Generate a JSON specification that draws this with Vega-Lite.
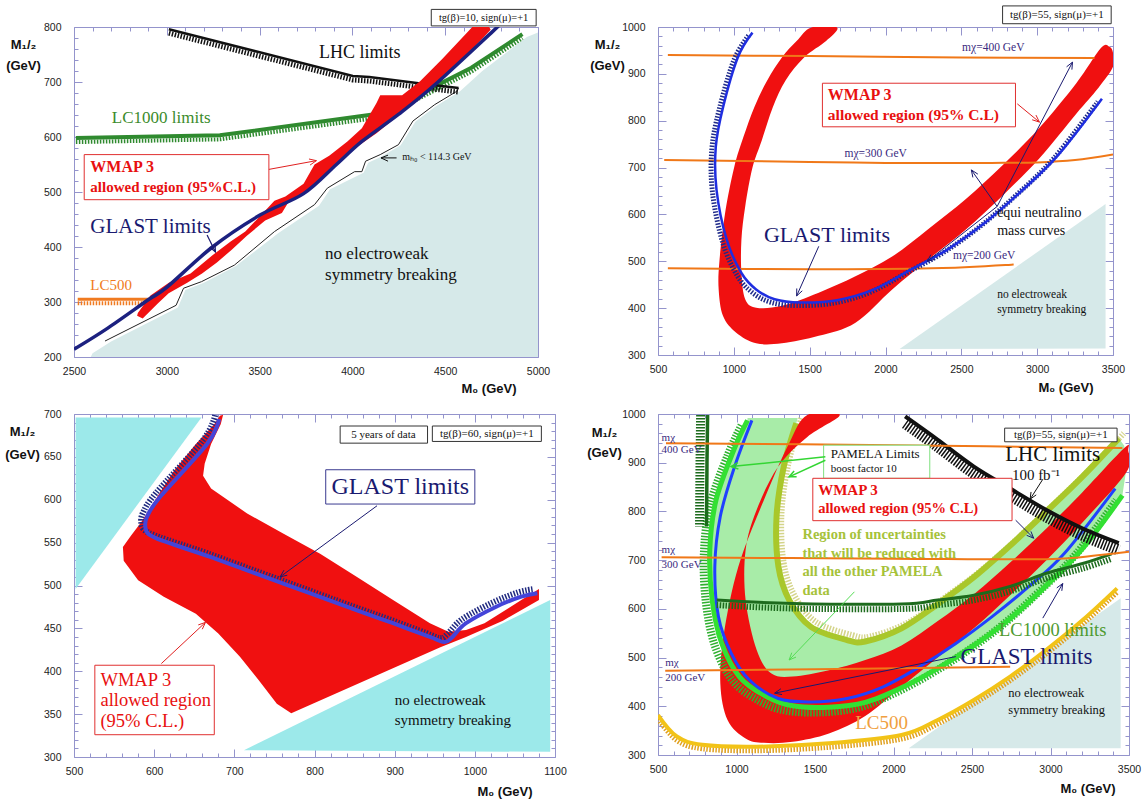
{
"$schema":"https://vega.github.io/schema/vega-lite/v6.json",
"background":"white",
"padding":{"left":4,"top":4,"right":2,"bottom":2},
"config":{
 "view":{"stroke":"#9494cc","strokeWidth":1},
 "axis":{"domain":false,"grid":false,"tickColor":"#9494cc","tickWidth":1,"labelFont":"Liberation Sans","labelFontSize":10.5,"labelColor":"#222","labelFlush":false,"titleFont":"Liberation Sans","titleFontSize":13,"titleFontWeight":"bold","titleColor":"#111"},
 "text":{"font":"Liberation Serif"}
},
"datasets":{
"tl":[
{"s":"hatch","x":2590,"y":200},{"s":"hatch","x":2600,"y":207},{"s":"hatch","x":2700,"y":228},{"s":"hatch","x":3060,"y":290},{"s":"hatch","x":3100,"y":322},{"s":"hatch","x":3200,"y":335},{"s":"hatch","x":3370,"y":365},{"s":"hatch","x":3600,"y":425},{"s":"hatch","x":3820,"y":475},{"s":"hatch","x":3880,"y":505},{"s":"hatch","x":4060,"y":535},{"s":"hatch","x":4085,"y":553},{"s":"hatch","x":4160,"y":565},{"s":"hatch","x":4260,"y":585},{"s":"hatch","x":4340,"y":628},{"s":"hatch","x":4450,"y":656},{"s":"hatch","x":4580,"y":683},{"s":"hatch","x":4700,"y":720},{"s":"hatch","x":4940,"y":782},{"s":"hatch","x":5000,"y":790},{"s":"hatch","x":5000,"y":200},
{"s":"mh","x":2667,"y":229},{"s":"mh","x":3050,"y":294},{"s":"mh","x":3090,"y":325},{"s":"mh","x":3187,"y":337},{"s":"mh","x":3364,"y":367},{"s":"mh","x":3580,"y":428},{"s":"mh","x":3796,"y":477},{"s":"mh","x":3865,"y":507},{"s":"mh","x":4012,"y":537},{"s":"mh","x":4051,"y":537},{"s":"mh","x":4071,"y":556},{"s":"mh","x":4150,"y":568},{"s":"mh","x":4248,"y":586},{"s":"mh","x":4326,"y":629},{"s":"mh","x":4444,"y":659},{"s":"mh","x":4562,"y":683},{"s":"mh","x":4572,"y":689},
{"s":"glast","x":2500,"y":214},{"s":"glast","x":2680,"y":252},{"s":"glast","x":2900,"y":304},{"s":"glast","x":3001,"y":327},{"s":"glast","x":3246,"y":400},{"s":"glast","x":3502,"y":458},{"s":"glast","x":3737,"y":497},{"s":"glast","x":3914,"y":550},{"s":"glast","x":4051,"y":592},{"s":"glast","x":4248,"y":641},{"s":"glast","x":4444,"y":695},{"s":"glast","x":4759,"y":793},{"s":"glast","x":4800,"y":806},
{"s":"wmap","x":2844,"y":280},{"s":"wmap","x":2912,"y":312},{"s":"wmap","x":3011,"y":335},{"s":"wmap","x":3128,"y":352},{"s":"wmap","x":3246,"y":385},{"s":"wmap","x":3344,"y":410},{"s":"wmap","x":3423,"y":428},{"s":"wmap","x":3541,"y":470},{"s":"wmap","x":3580,"y":484},{"s":"wmap","x":3639,"y":492},{"s":"wmap","x":3737,"y":515},{"s":"wmap","x":3796,"y":550},{"s":"wmap","x":3875,"y":566},{"s":"wmap","x":3973,"y":592},{"s":"wmap","x":4051,"y":616},{"s":"wmap","x":4130,"y":662},{"s":"wmap","x":4150,"y":676},{"s":"wmap","x":4268,"y":676},{"s":"wmap","x":4366,"y":702},{"s":"wmap","x":4484,"y":742},{"s":"wmap","x":4660,"y":805},{"s":"wmap","x":4729,"y":805},
{"s":"wmap","x":4745,"y":795},{"s":"wmap","x":4560,"y":728},{"s":"wmap","x":4360,"y":668},{"s":"wmap","x":4220,"y":632},{"s":"wmap","x":4130,"y":607},{"s":"wmap","x":3980,"y":572},{"s":"wmap","x":3860,"y":533},{"s":"wmap","x":3740,"y":497},{"s":"wmap","x":3660,"y":484},{"s":"wmap","x":3620,"y":462},{"s":"wmap","x":3530,"y":448},{"s":"wmap","x":3430,"y":420},{"s":"wmap","x":3350,"y":395},{"s":"wmap","x":3270,"y":372},{"s":"wmap","x":3190,"y":352},{"s":"wmap","x":3110,"y":335},{"s":"wmap","x":3010,"y":316},{"s":"wmap","x":2950,"y":297},{"s":"wmap","x":2870,"y":270},{"s":"wmap","x":2840,"y":275},
{"s":"lhc","x":3011,"y":796},{"s":"lhc","x":3500,"y":754},{"s":"lhc","x":4002,"y":711},{"s":"lhc","x":4091,"y":709},{"s":"lhc","x":4346,"y":698},{"s":"lhc","x":4444,"y":694},{"s":"lhc","x":4572,"y":689},
{"s":"lc1000","x":2510,"y":598},{"s":"lc1000","x":3286,"y":603},{"s":"lc1000","x":4110,"y":641},{"s":"lc1000","x":4287,"y":665},{"s":"lc1000","x":4444,"y":692},{"s":"lc1000","x":4641,"y":726},{"s":"lc1000","x":4916,"y":787},
{"s":"lc500","x":2520,"y":305},{"s":"lc500","x":2903,"y":305}
],
"tl_arr":[
{"c":"red","k":"a","x":3532,"y":540},{"c":"red","k":"a","x":3806,"y":557},{"c":"red","k":"ah","x":3766,"y":560},{"c":"red","k":"ah","x":3806,"y":557},{"c":"red","k":"ah","x":3772,"y":549},
{"c":"navy","k":"b","x":3217,"y":422},{"c":"navy","k":"b","x":3262,"y":391},{"c":"navy","k":"bh","x":3260,"y":405},{"c":"navy","k":"bh","x":3262,"y":391},{"c":"navy","k":"bh","x":3231,"y":400},
{"c":"black","k":"c","x":4238,"y":562},{"c":"black","k":"c","x":4154,"y":562},{"c":"black","k":"ch","x":4192,"y":567},{"c":"black","k":"ch","x":4154,"y":562},{"c":"black","k":"ch","x":4192,"y":556}
],
"tl_txt":[
{"g":"lhc","x":4040,"y":753,"t":"LHC limits"},
{"g":"lc1000","x":2970,"y":635,"t":"LC1000 limits"},
{"g":"lc500","x":2700,"y":331,"t":"LC500"},
{"g":"glast","x":2912,"y":437,"t":"GLAST limits"},
{"g":"ew","x":3853,"y":388,"t":"no electroweak"},{"g":"ew","x":3853,"y":349,"t":"symmetry breaking"},
{"g":"small","x":4268,"y":563,"t":"mₕ₀ < 114.3 GeV"},
{"g":"wm1","x":2588,"y":545,"t":"WMAP 3"},
{"g":"wm2","x":2588,"y":510,"t":"allowed region (95%C.L.)"},
{"g":"tg","x":4707,"y":817,"t":"tg(β)=10, sign(μ)=+1"}
],
"tl_box":[
{"g":"red","x":2555,"x2":3550,"y":486,"y2":568},
{"g":"black","x":4425,"x2":4990,"y":802,"y2":832}
],
"tr":[
{"s":"hatch","x":2093,"y":313},{"s":"hatch","x":3451,"y":314},{"s":"hatch","x":3451,"y":622},
{"s":"m400","x":565,"y":940},{"s":"m400","x":1500,"y":938},{"s":"m400","x":2500,"y":935},{"s":"m400","x":3378,"y":934},
{"s":"m300","x":541,"y":716},{"s":"m300","x":1500,"y":712},{"s":"m300","x":2000,"y":710},{"s":"m300","x":2700,"y":710},{"s":"m300","x":3000,"y":711},{"s":"m300","x":3250,"y":716},{"s":"m300","x":3500,"y":728},
{"s":"m200","x":565,"y":485},{"s":"m200","x":1500,"y":483},{"s":"m200","x":2300,"y":485},{"s":"m200","x":2845,"y":493},
{"s":"wmap","x":1511,"y":999},{"s":"wmap","x":1414,"y":970},{"s":"wmap","x":1317,"y":935},{"s":"wmap","x":1220,"y":886},{"s":"wmap","x":1135,"y":829},{"s":"wmap","x":1063,"y":765},{"s":"wmap","x":1002,"y":700},{"s":"wmap","x":941,"y":600},{"s":"wmap","x":905,"y":500},{"s":"wmap","x":900,"y":440},{"s":"wmap","x":929,"y":383},{"s":"wmap","x":1014,"y":348},{"s":"wmap","x":1147,"y":325},{"s":"wmap","x":1317,"y":325},{"s":"wmap","x":1560,"y":341},{"s":"wmap","x":1802,"y":369},{"s":"wmap","x":2044,"y":440},{"s":"wmap","x":2287,"y":505},{"s":"wmap","x":2530,"y":568},{"s":"wmap","x":2772,"y":640},{"s":"wmap","x":3015,"y":720},{"s":"wmap","x":3258,"y":815},{"s":"wmap","x":3403,"y":870},{"s":"wmap","x":3500,"y":915},{"s":"wmap","x":3500,"y":945},{"s":"wmap","x":3476,"y":958},
{"s":"wmap","x":3420,"y":955},{"s":"wmap","x":3258,"y":880},{"s":"wmap","x":3015,"y":785},{"s":"wmap","x":2772,"y":705},{"s":"wmap","x":2530,"y":633},{"s":"wmap","x":2287,"y":570},{"s":"wmap","x":2044,"y":510},{"s":"wmap","x":1802,"y":468},{"s":"wmap","x":1560,"y":433},{"s":"wmap","x":1317,"y":405},{"s":"wmap","x":1147,"y":401},{"s":"wmap","x":1075,"y":419},{"s":"wmap","x":1050,"y":475},{"s":"wmap","x":1050,"y":546},{"s":"wmap","x":1075,"y":617},{"s":"wmap","x":1123,"y":700},{"s":"wmap","x":1184,"y":758},{"s":"wmap","x":1257,"y":829},{"s":"wmap","x":1341,"y":886},{"s":"wmap","x":1463,"y":935},{"s":"wmap","x":1608,"y":970},{"s":"wmap","x":1681,"y":999},
{"s":"glast","x":1123,"y":988},{"s":"glast","x":1026,"y":935},{"s":"glast","x":929,"y":829},{"s":"glast","x":881,"y":744},{"s":"glast","x":886,"y":652},{"s":"glast","x":953,"y":546},{"s":"glast","x":1050,"y":475},{"s":"glast","x":1147,"y":440},{"s":"glast","x":1269,"y":419},{"s":"glast","x":1439,"y":412},{"s":"glast","x":1681,"y":417},{"s":"glast","x":1924,"y":440},{"s":"glast","x":2166,"y":482},{"s":"glast","x":2408,"y":525},{"s":"glast","x":2651,"y":581},{"s":"glast","x":2893,"y":649},{"s":"glast","x":3136,"y":726},{"s":"glast","x":3427,"y":847}
],
"tr_arr":[
{"c":"navy","k":"b1","x":1560,"y":532},{"c":"navy","k":"b1","x":1414,"y":426},{"c":"navy","k":"b1h","x":1451,"y":437},{"c":"navy","k":"b1h","x":1414,"y":426},{"c":"navy","k":"b1h","x":1415,"y":442},
{"c":"navy","k":"b3","x":2736,"y":617},{"c":"navy","k":"b3","x":3233,"y":925},{"c":"navy","k":"b3h","x":3194,"y":915},{"c":"navy","k":"b3h","x":3233,"y":925},{"c":"navy","k":"b3h","x":3229,"y":909},
{"c":"navy","k":"b4","x":2736,"y":617},{"c":"navy","k":"b4","x":2566,"y":695},{"c":"navy","k":"b4h","x":2576,"y":679},{"c":"navy","k":"b4h","x":2566,"y":695},{"c":"navy","k":"b4h","x":2609,"y":686},
{"c":"navy","k":"b5","x":2736,"y":617},{"c":"navy","k":"b5","x":2275,"y":500},{"c":"navy","k":"b5h","x":2324,"y":504},{"c":"navy","k":"b5h","x":2275,"y":500},{"c":"navy","k":"b5h","x":2299,"y":514},
{"c":"red","k":"b2","x":2869,"y":836},{"c":"red","k":"b2","x":3015,"y":797},{"c":"red","k":"b2h","x":2992,"y":812},{"c":"red","k":"b2h","x":3015,"y":797},{"c":"red","k":"b2h","x":2967,"y":802}
],
"tr_txt":[
{"g":"glast","x":1614,"y":557,"t":"GLAST limits"},
{"g":"wm1","x":1620,"y":854,"t":"WMAP 3"},
{"g":"wm2","x":1620,"y":813,"t":"allowed region (95% C.L)"},
{"g":"equi","x":2736,"y":603,"t":"equi neutralino"},{"g":"equi","x":2736,"y":564,"t":"mass curves"},
{"g":"ew","x":2736,"y":429,"t":"no electroweak"},{"g":"ew","x":2736,"y":396,"t":"symmetry breaking"},
{"g":"mchi","x":2505,"y":956,"t":"mχ=400 GeV"},{"g":"mchi","x":1730,"y":728,"t":"mχ=300 GeV"},{"g":"mchi","x":2445,"y":511,"t":"mχ=200 GeV"},
{"g":"tg","x":3130,"y":1025,"t":"tg(β)=55, sign(μ)=+1"}
],
"tr_box":[
{"g":"red","x":1584,"x2":2857,"y":787,"y2":880},
{"g":"black","x":2772,"x2":3488,"y":1007,"y2":1045}
],
"bl":[
{"s":"hatch1","x":502,"y":696},{"s":"hatch1","x":659,"y":696},{"s":"hatch1","x":502,"y":496},
{"s":"hatch2","x":712,"y":308},{"s":"hatch2","x":1094,"y":483},{"s":"hatch2","x":1094,"y":306},
{"s":"wmap","x":686,"y":699},{"s":"wmap","x":683,"y":688},{"s":"wmap","x":671,"y":665},{"s":"wmap","x":663,"y":642},{"s":"wmap","x":661,"y":628},{"s":"wmap","x":671,"y":613},{"s":"wmap","x":716,"y":584},{"s":"wmap","x":762,"y":560},{"s":"wmap","x":807,"y":537},{"s":"wmap","x":853,"y":510},{"s":"wmap","x":898,"y":483},{"s":"wmap","x":944,"y":456},{"s":"wmap","x":967,"y":446},{"s":"wmap","x":989,"y":448},{"s":"wmap","x":1012,"y":456},{"s":"wmap","x":1058,"y":483},{"s":"wmap","x":1080,"y":496},{"s":"wmap","x":1080,"y":483},{"s":"wmap","x":1035,"y":459},{"s":"wmap","x":989,"y":440},{"s":"wmap","x":957,"y":428},{"s":"wmap","x":771,"y":351},{"s":"wmap","x":753,"y":362},{"s":"wmap","x":730,"y":390},{"s":"wmap","x":707,"y":417},{"s":"wmap","x":680,"y":444},{"s":"wmap","x":652,"y":467},{"s":"wmap","x":612,"y":487},{"s":"wmap","x":580,"y":506},{"s":"wmap","x":562,"y":529},{"s":"wmap","x":561,"y":545},{"s":"wmap","x":571,"y":558},{"s":"wmap","x":584,"y":574},{"s":"wmap","x":598,"y":595},{"s":"wmap","x":625,"y":634},{"s":"wmap","x":652,"y":665},{"s":"wmap","x":675,"y":688},{"s":"wmap","x":682,"y":698},
{"s":"glast","x":681,"y":694},{"s":"glast","x":666,"y":665},{"s":"glast","x":607,"y":603},{"s":"glast","x":591,"y":580},{"s":"glast","x":589,"y":568},{"s":"glast","x":593,"y":560},{"s":"glast","x":611,"y":552},{"s":"glast","x":671,"y":533},{"s":"glast","x":762,"y":502},{"s":"glast","x":853,"y":471},{"s":"glast","x":898,"y":456},{"s":"glast","x":944,"y":440},{"s":"glast","x":962,"y":434},{"s":"glast","x":971,"y":439},{"s":"glast","x":989,"y":456},{"s":"glast","x":1026,"y":475},{"s":"glast","x":1058,"y":487},{"s":"glast","x":1078,"y":491}
],
"bl_arr":[
{"c":"navy","k":"c1","x":878,"y":593},{"c":"navy","k":"c1","x":757,"y":510},{"c":"navy","k":"c1h","x":766,"y":512},{"c":"navy","k":"c1h","x":757,"y":510},{"c":"navy","k":"c1h","x":762,"y":518},
{"c":"red","k":"c2","x":609,"y":409},{"c":"red","k":"c2","x":664,"y":457},{"c":"red","k":"c2h","x":655,"y":454},{"c":"red","k":"c2h","x":664,"y":457},{"c":"red","k":"c2h","x":660,"y":449}
],
"bl_txt":[
{"g":"glast","x":907,"y":615,"t":"GLAST limits"},
{"g":"wm","x":533,"y":390,"t":"WMAP 3"},{"g":"wm","x":533,"y":366,"t":"allowed region"},{"g":"wm","x":533,"y":342,"t":"(95% C.L.)"},
{"g":"ew","x":900,"y":366,"t":"no electroweak"},{"g":"ew","x":900,"y":343,"t":"symmetry breaking"},
{"g":"tg","x":886,"y":676,"t":"5 years of data"},{"g":"tg","x":1015,"y":677,"t":"tg(β)=60, sign(μ)=+1"}
],
"bl_box":[
{"g":"navy","x":814,"x2":1000,"y":595,"y2":635},
{"g":"red","x":526,"x2":675,"y":326,"y2":407},
{"g":"black","x":832,"x2":941,"y":666,"y2":686},
{"g":"black","x":947,"x2":1083,"y":668,"y2":686}
],
"br":[
{"s":"hatch","x":2097,"y":314},{"s":"hatch","x":3447,"y":314},{"s":"hatch","x":3447,"y":622},
{"s":"lc500","x":500,"y":382},{"s":"lc500","x":620,"y":338},{"s":"lc500","x":782,"y":321},{"s":"lc500","x":1128,"y":317},{"s":"lc500","x":1589,"y":324},{"s":"lc500","x":2051,"y":341},{"s":"lc500","x":2282,"y":372},{"s":"lc500","x":2512,"y":413},{"s":"lc500","x":2743,"y":461},{"s":"lc500","x":2974,"y":516},{"s":"lc500","x":3205,"y":577},{"s":"lc500","x":3424,"y":642},
{"s":"lg","x":1070,"y":992},{"s":"lg","x":1070,"y":987},{"s":"lg","x":985,"y":928},{"s":"lg","x":870,"y":824},{"s":"lg","x":830,"y":721},{"s":"lg","x":845,"y":618},{"s":"lg","x":905,"y":530},{"s":"lg","x":1020,"y":460},{"s":"lg","x":1190,"y":420},{"s":"lg","x":1358,"y":401},{"s":"lg","x":1589,"y":398},{"s":"lg","x":1820,"y":408},{"s":"lg","x":2051,"y":438},{"s":"lg","x":2282,"y":478},{"s":"lg","x":2513,"y":525},{"s":"lg","x":2743,"y":580},{"s":"lg","x":2974,"y":648},{"s":"lg","x":3205,"y":724},{"s":"lg","x":3458,"y":833},{"s":"lg","x":3480,"y":880},{"s":"lg","x":3470,"y":935},{"s":"lg","x":3435,"y":950},{"s":"lg","x":3205,"y":872},{"s":"lg","x":2974,"y":800},{"s":"lg","x":2743,"y":730},{"s":"lg","x":2512,"y":665},{"s":"lg","x":2282,"y":610},{"s":"lg","x":2051,"y":560},{"s":"lg","x":1820,"y":533},{"s":"lg","x":1704,"y":536},{"s":"lg","x":1474,"y":563},{"s":"lg","x":1336,"y":618},{"s":"lg","x":1267,"y":687},{"s":"lg","x":1255,"y":789},{"s":"lg","x":1301,"y":892},{"s":"lg","x":1381,"y":981},{"s":"lg","x":1390,"y":992},
{"s":"olive","x":1381,"y":981},{"s":"olive","x":1301,"y":892},{"s":"olive","x":1255,"y":789},{"s":"olive","x":1267,"y":687},{"s":"olive","x":1336,"y":618},{"s":"olive","x":1474,"y":563},{"s":"olive","x":1704,"y":536},{"s":"olive","x":1820,"y":533},{"s":"olive","x":2051,"y":560},{"s":"olive","x":2282,"y":610},{"s":"olive","x":2512,"y":665},{"s":"olive","x":2743,"y":730},{"s":"olive","x":2974,"y":800},{"s":"olive","x":3205,"y":872},{"s":"olive","x":3435,"y":950},
{"s":"wmap","x":1451,"y":998},{"s":"wmap","x":1335,"y":940},{"s":"wmap","x":1174,"y":823},{"s":"wmap","x":1012,"y":687},{"s":"wmap","x":920,"y":550},{"s":"wmap","x":897,"y":447},{"s":"wmap","x":943,"y":372},{"s":"wmap","x":1058,"y":334},{"s":"wmap","x":1174,"y":325},{"s":"wmap","x":1358,"y":327},{"s":"wmap","x":1589,"y":344},{"s":"wmap","x":1820,"y":380},{"s":"wmap","x":2051,"y":440},{"s":"wmap","x":2282,"y":500},{"s":"wmap","x":2512,"y":560},{"s":"wmap","x":2743,"y":628},{"s":"wmap","x":2974,"y":700},{"s":"wmap","x":3205,"y":778},{"s":"wmap","x":3482,"y":880},{"s":"wmap","x":3495,"y":925},
{"s":"wmap","x":3470,"y":930},{"s":"wmap","x":3205,"y":840},{"s":"wmap","x":2974,"y":765},{"s":"wmap","x":2743,"y":695},{"s":"wmap","x":2512,"y":630},{"s":"wmap","x":2282,"y":575},{"s":"wmap","x":2051,"y":525},{"s":"wmap","x":1820,"y":495},{"s":"wmap","x":1589,"y":474},{"s":"wmap","x":1358,"y":461},{"s":"wmap","x":1220,"y":468},{"s":"wmap","x":1128,"y":516},{"s":"wmap","x":1058,"y":618},{"s":"wmap","x":1058,"y":721},{"s":"wmap","x":1128,"y":803},{"s":"wmap","x":1266,"y":892},{"s":"wmap","x":1451,"y":953},{"s":"wmap","x":1658,"y":998},
{"s":"bg","x":1070,"y":987},{"s":"bg","x":985,"y":928},{"s":"bg","x":870,"y":824},{"s":"bg","x":830,"y":721},{"s":"bg","x":845,"y":618},{"s":"bg","x":905,"y":530},{"s":"bg","x":1020,"y":460},{"s":"bg","x":1190,"y":420},{"s":"bg","x":1358,"y":401},{"s":"bg","x":1589,"y":398},{"s":"bg","x":1820,"y":408},{"s":"bg","x":2051,"y":438},{"s":"bg","x":2282,"y":478},{"s":"bg","x":2513,"y":525},{"s":"bg","x":2743,"y":580},{"s":"bg","x":2974,"y":648},{"s":"bg","x":3205,"y":724},{"s":"bg","x":3458,"y":833},
{"s":"glast","x":1098,"y":987},{"s":"glast","x":989,"y":893},{"s":"glast","x":897,"y":790},{"s":"glast","x":862,"y":687},{"s":"glast","x":885,"y":584},{"s":"glast","x":966,"y":509},{"s":"glast","x":1082,"y":454},{"s":"glast","x":1266,"y":416},{"s":"glast","x":1474,"y":409},{"s":"glast","x":1705,"y":416},{"s":"glast","x":1935,"y":440},{"s":"glast","x":2166,"y":481},{"s":"glast","x":2397,"y":529},{"s":"glast","x":2628,"y":584},{"s":"glast","x":2859,"y":645},{"s":"glast","x":3089,"y":714},{"s":"glast","x":3412,"y":847},
{"s":"dg1","x":816,"y":998},{"s":"dg1","x":812,"y":900},{"s":"dg1","x":809,"y":769},
{"s":"dg2","x":874,"y":618},{"s":"dg2","x":1358,"y":611},{"s":"dg2","x":2051,"y":610},{"s":"dg2","x":2282,"y":618},{"s":"dg2","x":2512,"y":628},{"s":"dg2","x":2743,"y":646},{"s":"dg2","x":2974,"y":673},{"s":"dg2","x":3205,"y":693},{"s":"dg2","x":3389,"y":713},
{"s":"lhc","x":2074,"y":995},{"s":"lhc","x":2282,"y":947},{"s":"lhc","x":2512,"y":892},{"s":"lhc","x":2743,"y":847},{"s":"lhc","x":2974,"y":803},{"s":"lhc","x":3205,"y":765},{"s":"lhc","x":3435,"y":735},
{"s":"m400","x":551,"y":940},{"s":"m400","x":2000,"y":936},{"s":"m400","x":3458,"y":930},
{"s":"m300","x":523,"y":706},{"s":"m300","x":2000,"y":703},{"s":"m300","x":2974,"y":702},{"s":"m300","x":3300,"y":710},{"s":"m300","x":3500,"y":717},
{"s":"m200","x":546,"y":473},{"s":"m200","x":1500,"y":476},{"s":"m200","x":2743,"y":481}
],
"br_arr":[
{"c":"green","k":"d1","x":1566,"y":912},{"c":"green","k":"d1","x":966,"y":892},{"c":"green","k":"d1h","x":1012,"y":887},{"c":"green","k":"d1h","x":966,"y":892},{"c":"green","k":"d1h","x":1008,"y":900},
{"c":"green","k":"d2","x":1566,"y":905},{"c":"green","k":"d2","x":1335,"y":871},{"c":"green","k":"d2h","x":1383,"y":871},{"c":"green","k":"d2h","x":1335,"y":871},{"c":"green","k":"d2h","x":1367,"y":883},
{"c":"black","k":"d3","x":2951,"y":866},{"c":"black","k":"d3","x":2870,"y":825},{"c":"black","k":"d3h","x":2909,"y":834},{"c":"black","k":"d3h","x":2870,"y":825},{"c":"black","k":"d3h","x":2876,"y":840},
{"c":"navy","k":"d4","x":2778,"y":782},{"c":"navy","k":"d4","x":2893,"y":745},{"c":"navy","k":"d4h","x":2875,"y":759},{"c":"navy","k":"d4h","x":2893,"y":745},{"c":"navy","k":"d4h","x":2848,"y":751},
{"c":"navy","k":"d6","x":2397,"y":502},{"c":"navy","k":"d6","x":1243,"y":427},{"c":"navy","k":"d6h","x":1290,"y":424},{"c":"navy","k":"d6h","x":1243,"y":427},{"c":"navy","k":"d6h","x":1283,"y":436},
{"c":"navy","k":"d7","x":2951,"y":581},{"c":"navy","k":"d7","x":3078,"y":652},{"c":"navy","k":"d7h","x":3040,"y":643},{"c":"navy","k":"d7h","x":3078,"y":652},{"c":"navy","k":"d7h","x":3072,"y":637},
{"c":"lgreen","k":"d5","x":1751,"y":635},{"c":"lgreen","k":"d5","x":1335,"y":495},{"c":"lgreen","k":"d5h","x":1379,"y":501},{"c":"lgreen","k":"d5h","x":1335,"y":495},{"c":"lgreen","k":"d5h","x":1352,"y":510}
],
"br_txt":[
{"g":"lhc","x":3014,"y":915,"t":"LHC limits"},
{"g":"fb","x":2754,"y":874,"t":"100 fb⁻¹"},
{"g":"glast","x":2847,"y":502,"t":"GLAST limits"},
{"g":"lc1000","x":3014,"y":557,"t":"LC1000 limits"},
{"g":"lc500","x":1924,"y":365,"t":"LC500"},
{"g":"pam1","x":1601,"y":918,"t":"PAMELA Limits"},
{"g":"pam2","x":1601,"y":888,"t":"boost factor 10"},
{"g":"wm1","x":1520,"y":844,"t":"WMAP 3"},
{"g":"wm2","x":1520,"y":806,"t":"allowed region (95% C.L)"},
{"g":"reg","x":1420,"y":752,"t":"Region of uncertainties"},{"g":"reg","x":1420,"y":713,"t":"that will be reduced with"},{"g":"reg","x":1420,"y":675,"t":"all the other PAMELA"},{"g":"reg","x":1420,"y":637,"t":"data"},
{"g":"ew","x":2731,"y":427,"t":"no electroweak"},{"g":"ew","x":2731,"y":392,"t":"symmetry breaking"},
{"g":"mchi","x":523,"y":950,"t":"mχ"},{"g":"mchi","x":523,"y":926,"t":"400 GeV"},{"g":"mchi","x":523,"y":721,"t":"mχ"},{"g":"mchi","x":523,"y":690,"t":"300 GeV"},{"g":"mchi","x":546,"y":488,"t":"mχ"},{"g":"mchi","x":546,"y":459,"t":"200 GeV"},
{"g":"tg","x":3066,"y":957,"t":"tg(β)=55, sign(μ)=+1"}
],
"br_box":[
{"g":"green","x":1555,"x2":2231,"y":868,"y2":936},
{"g":"red","x":1486,"x2":2755,"y":781,"y2":868},
{"g":"black","x":2708,"x2":3424,"y":943,"y2":971}
]
},
"concat":[
{
"width":464,"height":330,
"layer":[
 {"encoding":{
   "x":{"field":"x","type":"quantitative","scale":{"domain":[2500,5000],"nice":false,"zero":false},"axis":{"orient":"bottom","values":[2500,3000,3500,4000,4500,5000],"format":"d","tickSize":-8,"labelPadding":17,"title":"M₀ (GeV)","titleX":442,"titleY":31,"titleAlign":"right","titleBaseline":"middle"}},
   "y":{"field":"y","type":"quantitative","scale":{"domain":[200,800],"nice":false,"zero":false},"axis":{"orient":"left","values":[200,300,400,500,600,700,800],"format":"d","tickSize":-8,"labelPadding":21,"title":["M₁/₂","(GeV)"],"titleAngle":0,"titleAlign":"center","titleBaseline":"top","titleX":-51,"titleY":11,"titleLineHeight":21}}
  },
  "layer":[
   {"data":{"name":"tl"},"transform":[{"filter":"datum.s==='hatch'"}],"mark":{"type":"line","filled":true,"interpolate":"linear-closed","color":"#d6e9e9","clip":true},"encoding":{"order":{"value":null}}},
   {"data":{"name":"tl"},"transform":[{"filter":"datum.s==='mh'"}],"mark":{"type":"line","color":"#222","strokeWidth":1,"clip":true},"encoding":{"order":{"value":null}}},
   {"data":{"name":"tl"},"transform":[{"filter":"datum.s==='lc500'"}],"mark":{"type":"line","color":"#f07a20","strokeWidth":4,"strokeDash":[1.5,1.5],"yOffset":4,"clip":true},"encoding":{"order":{"value":null}}},
   {"data":{"name":"tl"},"transform":[{"filter":"datum.s==='lc500'"}],"mark":{"type":"line","color":"#f07a20","strokeWidth":3,"clip":true},"encoding":{"order":{"value":null}}},
   {"data":{"name":"tl"},"transform":[{"filter":"datum.s==='lc1000'"}],"mark":{"type":"line","color":"#2f8a2f","strokeWidth":4,"strokeDash":[1.5,1.5],"yOffset":4,"clip":true},"encoding":{"order":{"value":null}}},
   {"data":{"name":"tl"},"transform":[{"filter":"datum.s==='lc1000'"}],"mark":{"type":"line","color":"#2f8a2f","strokeWidth":4,"clip":true},"encoding":{"order":{"value":null}}},
   {"data":{"name":"tl"},"transform":[{"filter":"datum.s==='lhc'"}],"mark":{"type":"line","color":"#111","strokeWidth":5,"strokeDash":[1.5,1.5],"yOffset":4,"clip":true},"encoding":{"order":{"value":null}}},
   {"data":{"name":"tl"},"transform":[{"filter":"datum.s==='lhc'"}],"mark":{"type":"line","color":"#111","strokeWidth":2.5,"clip":true},"encoding":{"order":{"value":null}}},
   {"data":{"name":"tl"},"transform":[{"filter":"datum.s==='wmap'"}],"mark":{"type":"line","filled":true,"interpolate":"linear-closed","color":"#f01010","clip":true},"encoding":{"order":{"value":null}}},
   {"data":{"name":"tl"},"transform":[{"filter":"datum.s==='glast'"}],"mark":{"type":"line","interpolate":"cardinal","color":"#1c2180","strokeWidth":3.5,"clip":true},"encoding":{"order":{"value":null}}},
   {"data":{"name":"tl_arr"},"transform":[{"filter":"datum.c==='red'"}],"mark":{"type":"line","color":"#e02020","strokeWidth":1},"encoding":{"detail":{"field":"k"},"order":{"value":null}}},
   {"data":{"name":"tl_arr"},"transform":[{"filter":"datum.c==='navy'"}],"mark":{"type":"line","color":"#1a1a70","strokeWidth":1.2},"encoding":{"detail":{"field":"k"},"order":{"value":null}}},
   {"data":{"name":"tl_arr"},"transform":[{"filter":"datum.c==='black'"}],"mark":{"type":"line","color":"#111","strokeWidth":1},"encoding":{"detail":{"field":"k"},"order":{"value":null}}},
   {"data":{"name":"tl_box"},"transform":[{"filter":"datum.g==='red'"}],"mark":{"type":"rect","fill":"#ffffff","stroke":"#e03030","strokeWidth":1},"encoding":{"x2":{"field":"x2"},"y2":{"field":"y2"}}},
   {"data":{"name":"tl_box"},"transform":[{"filter":"datum.g==='black'"}],"mark":{"type":"rect","fill":"#ffffff","stroke":"#333","strokeWidth":1},"encoding":{"x2":{"field":"x2"},"y2":{"field":"y2"}}},
   {"data":{"name":"tl_txt"},"transform":[{"filter":"datum.g==='lhc'"}],"mark":{"type":"text","font":"Liberation Serif","fontSize":18,"color":"#111","align":"center","baseline":"middle"},"encoding":{"text":{"field":"t"}}},
   {"data":{"name":"tl_txt"},"transform":[{"filter":"datum.g==='lc1000'"}],"mark":{"type":"text","font":"Liberation Serif","fontSize":17,"color":"#3b8b2b","align":"center","baseline":"middle"},"encoding":{"text":{"field":"t"}}},
   {"data":{"name":"tl_txt"},"transform":[{"filter":"datum.g==='lc500'"}],"mark":{"type":"text","font":"Liberation Serif","fontSize":15,"color":"#f07a20","align":"center","baseline":"middle"},"encoding":{"text":{"field":"t"}}},
   {"data":{"name":"tl_txt"},"transform":[{"filter":"datum.g==='glast'"}],"mark":{"type":"text","font":"Liberation Serif","fontSize":21,"color":"#1a1a70","align":"center","baseline":"middle"},"encoding":{"text":{"field":"t"}}},
   {"data":{"name":"tl_txt"},"transform":[{"filter":"datum.g==='ew'"}],"mark":{"type":"text","font":"Liberation Serif","fontSize":17,"color":"#111","align":"left","baseline":"middle"},"encoding":{"text":{"field":"t"}}},
   {"data":{"name":"tl_txt"},"transform":[{"filter":"datum.g==='small'"}],"mark":{"type":"text","font":"Liberation Serif","fontSize":10,"color":"#111","align":"left","baseline":"middle"},"encoding":{"text":{"field":"t"}}},
   {"data":{"name":"tl_txt"},"transform":[{"filter":"datum.g==='wm1'"}],"mark":{"type":"text","font":"Liberation Serif","fontSize":16,"fontWeight":"bold","color":"#e81010","align":"left","baseline":"middle"},"encoding":{"text":{"field":"t"}}},
   {"data":{"name":"tl_txt"},"transform":[{"filter":"datum.g==='wm2'"}],"mark":{"type":"text","font":"Liberation Serif","fontSize":15,"fontWeight":"bold","color":"#e81010","align":"left","baseline":"middle"},"encoding":{"text":{"field":"t"}}},
   {"data":{"name":"tl_txt"},"transform":[{"filter":"datum.g==='tg'"}],"mark":{"type":"text","font":"Liberation Serif","fontSize":10.5,"color":"#111","align":"center","baseline":"middle"},"encoding":{"text":{"field":"t"}}}
  ]
 },
 {"data":{"values":[{"x":3000,"y":300}]},"mark":{"type":"point","opacity":0},"encoding":{
   "x":{"field":"x","type":"quantitative","scale":{"domain":[2500,5000],"nice":false,"zero":false},"axis":{"orient":"top","values":[2500,3000,3500,4000,4500,5000],"tickSize":-8,"labels":false,"title":null}},
   "y":{"field":"y","type":"quantitative","scale":{"domain":[200,800],"nice":false,"zero":false},"axis":{"orient":"right","values":[200,300,400,500,600,700,800],"tickSize":-8,"labels":false,"title":null}}}},
 {"data":{"values":[{"x":3000,"y":300}]},"mark":{"type":"point","opacity":0},"encoding":{
   "x":{"field":"x","type":"quantitative","scale":{"domain":[2500,5000],"nice":false,"zero":false},"axis":{"orient":"bottom","values":[2600,2700,2800,2900,3100,3200,3300,3400,3600,3700,3800,3900,4100,4200,4300,4400,4600,4700,4800,4900],"tickSize":-4,"labels":false,"title":null}},
   "y":{"field":"y","type":"quantitative","scale":{"domain":[200,800],"nice":false,"zero":false},"axis":{"orient":"left","values":[220,240,260,280,320,340,360,380,420,440,460,480,520,540,560,580,620,640,660,680,720,740,760,780],"tickSize":-4,"labels":false,"title":null}}}},
 {"data":{"values":[{"x":3000,"y":300}]},"mark":{"type":"point","opacity":0},"encoding":{
   "x":{"field":"x","type":"quantitative","scale":{"domain":[2500,5000],"nice":false,"zero":false},"axis":{"orient":"top","values":[2600,2700,2800,2900,3100,3200,3300,3400,3600,3700,3800,3900,4100,4200,4300,4400,4600,4700,4800,4900],"tickSize":-4,"labels":false,"title":null}},
   "y":{"field":"y","type":"quantitative","scale":{"domain":[200,800],"nice":false,"zero":false},"axis":{"orient":"right","values":[220,240,260,280,320,340,360,380,420,440,460,480,520,540,560,580,620,640,660,680,720,740,760,780],"tickSize":-4,"labels":false,"title":null}}}}
],
"resolve":{"axis":{"x":"independent","y":"independent"}}
},
{
"width":455,"height":328,
"layer":[
 {"encoding":{
   "x":{"field":"x","type":"quantitative","scale":{"domain":[500,3500],"nice":false,"zero":false},"axis":{"orient":"bottom","values":[500,1000,1500,2000,2500,3000,3500],"format":"d","tickSize":-8,"labelPadding":17,"title":"M₀ (GeV)","titleX":435,"titleY":32,"titleAlign":"right","titleBaseline":"middle"}},
   "y":{"field":"y","type":"quantitative","scale":{"domain":[300,1000],"nice":false,"zero":false},"axis":{"orient":"left","values":[300,400,500,600,700,800,900,1000],"format":"d","tickSize":-8,"labelPadding":21,"title":["M₁/₂","(GeV)"],"titleAngle":0,"titleAlign":"center","titleBaseline":"top","titleX":-51,"titleY":11,"titleLineHeight":21}}
  },
  "layer":[
   {"data":{"name":"tr"},"transform":[{"filter":"datum.s==='hatch'"}],"mark":{"type":"line","filled":true,"interpolate":"linear-closed","color":"#d6e9e9","clip":true},"encoding":{"order":{"value":null}}},
   {"data":{"name":"tr"},"transform":[{"filter":"datum.s==='wmap'"}],"mark":{"type":"line","filled":true,"interpolate":"cardinal-closed","color":"#f01010","clip":true},"encoding":{"order":{"value":null}}},
   {"data":{"name":"tr"},"transform":[{"filter":"datum.s==='m400'"}],"mark":{"type":"line","interpolate":"cardinal","color":"#f07818","strokeWidth":2,"clip":true},"encoding":{"order":{"value":null}}},
   {"data":{"name":"tr"},"transform":[{"filter":"datum.s==='m300'"}],"mark":{"type":"line","interpolate":"cardinal","color":"#f07818","strokeWidth":2,"clip":true},"encoding":{"order":{"value":null}}},
   {"data":{"name":"tr"},"transform":[{"filter":"datum.s==='m200'"}],"mark":{"type":"line","interpolate":"cardinal","color":"#f07818","strokeWidth":2,"clip":true},"encoding":{"order":{"value":null}}},
   {"data":{"name":"tr"},"transform":[{"filter":"datum.s==='glast'"}],"mark":{"type":"line","interpolate":"cardinal","color":"#1e2a8a","strokeWidth":5,"strokeDash":[1.5,1.5],"xOffset":-4,"yOffset":3,"clip":true},"encoding":{"order":{"value":null}}},
   {"data":{"name":"tr"},"transform":[{"filter":"datum.s==='glast'"}],"mark":{"type":"line","interpolate":"cardinal","color":"#1f2ee0","strokeWidth":2.5,"clip":true},"encoding":{"order":{"value":null}}},
   {"data":{"name":"tr_box"},"transform":[{"filter":"datum.g==='red'"}],"mark":{"type":"rect","fill":"#ffffff","stroke":"#e03030","strokeWidth":1},"encoding":{"x2":{"field":"x2"},"y2":{"field":"y2"}}},
   {"data":{"name":"tr_box"},"transform":[{"filter":"datum.g==='black'"}],"mark":{"type":"rect","fill":"#ffffff","stroke":"#333","strokeWidth":1},"encoding":{"x2":{"field":"x2"},"y2":{"field":"y2"}}},
   {"data":{"name":"tr_arr"},"transform":[{"filter":"datum.c==='navy'"}],"mark":{"type":"line","color":"#1a1a70","strokeWidth":1},"encoding":{"detail":{"field":"k"},"order":{"value":null}}},
   {"data":{"name":"tr_arr"},"transform":[{"filter":"datum.c==='red'"}],"mark":{"type":"line","color":"#e02020","strokeWidth":1},"encoding":{"detail":{"field":"k"},"order":{"value":null}}},
   {"data":{"name":"tr_txt"},"transform":[{"filter":"datum.g==='glast'"}],"mark":{"type":"text","font":"Liberation Serif","fontSize":22,"color":"#1a1a70","align":"center","baseline":"middle"},"encoding":{"text":{"field":"t"}}},
   {"data":{"name":"tr_txt"},"transform":[{"filter":"datum.g==='wm1'"}],"mark":{"type":"text","font":"Liberation Serif","fontSize":16,"fontWeight":"bold","color":"#e81010","align":"left","baseline":"middle"},"encoding":{"text":{"field":"t"}}},
   {"data":{"name":"tr_txt"},"transform":[{"filter":"datum.g==='wm2'"}],"mark":{"type":"text","font":"Liberation Serif","fontSize":15.5,"fontWeight":"bold","color":"#e81010","align":"left","baseline":"middle"},"encoding":{"text":{"field":"t"}}},
   {"data":{"name":"tr_txt"},"transform":[{"filter":"datum.g==='equi'"}],"mark":{"type":"text","font":"Liberation Serif","fontSize":14,"color":"#111","align":"left","baseline":"middle"},"encoding":{"text":{"field":"t"}}},
   {"data":{"name":"tr_txt"},"transform":[{"filter":"datum.g==='ew'"}],"mark":{"type":"text","font":"Liberation Serif","fontSize":11.5,"color":"#111","align":"left","baseline":"middle"},"encoding":{"text":{"field":"t"}}},
   {"data":{"name":"tr_txt"},"transform":[{"filter":"datum.g==='mchi'"}],"mark":{"type":"text","font":"Liberation Serif","fontSize":11.5,"color":"#3a2a80","align":"left","baseline":"middle"},"encoding":{"text":{"field":"t"}}},
   {"data":{"name":"tr_txt"},"transform":[{"filter":"datum.g==='tg'"}],"mark":{"type":"text","font":"Liberation Serif","fontSize":11,"color":"#111","align":"center","baseline":"middle"},"encoding":{"text":{"field":"t"}}}
  ]
 },
 {"data":{"values":[{"x":1000,"y":500}]},"mark":{"type":"point","opacity":0},"encoding":{
   "x":{"field":"x","type":"quantitative","scale":{"domain":[500,3500],"nice":false,"zero":false},"axis":{"orient":"top","values":[500,1000,1500,2000,2500,3000,3500],"tickSize":-8,"labels":false,"title":null}},
   "y":{"field":"y","type":"quantitative","scale":{"domain":[300,1000],"nice":false,"zero":false},"axis":{"orient":"right","values":[300,400,500,600,700,800,900,1000],"tickSize":-8,"labels":false,"title":null}}}},
 {"data":{"values":[{"x":1000,"y":500}]},"mark":{"type":"point","opacity":0},"encoding":{
   "x":{"field":"x","type":"quantitative","scale":{"domain":[500,3500],"nice":false,"zero":false},"axis":{"orient":"bottom","values":[600,700,800,900,1100,1200,1300,1400,1600,1700,1800,1900,2100,2200,2300,2400,2600,2700,2800,2900,3100,3200,3300,3400],"tickSize":-4,"labels":false,"title":null}},
   "y":{"field":"y","type":"quantitative","scale":{"domain":[300,1000],"nice":false,"zero":false},"axis":{"orient":"left","values":[320,340,360,380,420,440,460,480,520,540,560,580,620,640,660,680,720,740,760,780,820,840,860,880,920,940,960,980],"tickSize":-4,"labels":false,"title":null}}}},
 {"data":{"values":[{"x":1000,"y":500}]},"mark":{"type":"point","opacity":0},"encoding":{
   "x":{"field":"x","type":"quantitative","scale":{"domain":[500,3500],"nice":false,"zero":false},"axis":{"orient":"top","values":[600,700,800,900,1100,1200,1300,1400,1600,1700,1800,1900,2100,2200,2300,2400,2600,2700,2800,2900,3100,3200,3300,3400],"tickSize":-4,"labels":false,"title":null}},
   "y":{"field":"y","type":"quantitative","scale":{"domain":[300,1000],"nice":false,"zero":false},"axis":{"orient":"right","values":[320,340,360,380,420,440,460,480,520,540,560,580,620,640,660,680,720,740,760,780,820,840,860,880,920,940,960,980],"tickSize":-4,"labels":false,"title":null}}}}
],
"resolve":{"axis":{"x":"independent","y":"independent"}}
},
{
"width":481,"height":343,
"layer":[
 {"encoding":{
   "x":{"field":"x","type":"quantitative","scale":{"domain":[500,1100],"nice":false,"zero":false},"axis":{"orient":"bottom","values":[500,600,700,800,900,1000,1100],"format":"d","tickSize":-8,"labelPadding":17,"title":"M₀ (GeV)","titleX":458,"titleY":34,"titleAlign":"right","titleBaseline":"middle"}},
   "y":{"field":"y","type":"quantitative","scale":{"domain":[300,700],"nice":false,"zero":false},"axis":{"orient":"left","values":[300,350,400,450,500,550,600,650,700],"format":"d","tickSize":-8,"labelPadding":21,"title":["M₁/₂","(GeV)"],"titleAngle":0,"titleAlign":"center","titleBaseline":"top","titleX":-52,"titleY":11,"titleLineHeight":23}}
  },
  "layer":[
   {"data":{"name":"bl"},"transform":[{"filter":"datum.s==='hatch1'"}],"mark":{"type":"line","filled":true,"interpolate":"linear-closed","color":"#9ce9ea","clip":true},"encoding":{"order":{"value":null}}},
   {"data":{"name":"bl"},"transform":[{"filter":"datum.s==='hatch2'"}],"mark":{"type":"line","filled":true,"interpolate":"linear-closed","color":"#9ce9ea","clip":true},"encoding":{"order":{"value":null}}},
   {"data":{"name":"bl"},"transform":[{"filter":"datum.s==='wmap'"}],"mark":{"type":"line","filled":true,"interpolate":"linear-closed","color":"#f01010","clip":true},"encoding":{"order":{"value":null}}},
   {"data":{"name":"bl"},"transform":[{"filter":"datum.s==='glast'"}],"mark":{"type":"line","interpolate":"cardinal","color":"#202a80","strokeWidth":6,"strokeDash":[1.5,1.5],"xOffset":-4,"yOffset":-4,"clip":true},"encoding":{"order":{"value":null}}},
   {"data":{"name":"bl"},"transform":[{"filter":"datum.s==='glast'"}],"mark":{"type":"line","interpolate":"cardinal","color":"#4444d8","strokeWidth":4,"clip":true},"encoding":{"order":{"value":null}}},
   {"data":{"name":"bl_box"},"transform":[{"filter":"datum.g==='navy'"}],"mark":{"type":"rect","fill":"#ffffff","stroke":"#3a3a90","strokeWidth":1},"encoding":{"x2":{"field":"x2"},"y2":{"field":"y2"}}},
   {"data":{"name":"bl_box"},"transform":[{"filter":"datum.g==='red'"}],"mark":{"type":"rect","fill":"#ffffff","stroke":"#e03030","strokeWidth":1},"encoding":{"x2":{"field":"x2"},"y2":{"field":"y2"}}},
   {"data":{"name":"bl_box"},"transform":[{"filter":"datum.g==='black'"}],"mark":{"type":"rect","fill":"#ffffff","stroke":"#333","strokeWidth":1},"encoding":{"x2":{"field":"x2"},"y2":{"field":"y2"}}},
   {"data":{"name":"bl_arr"},"transform":[{"filter":"datum.c==='navy'"}],"mark":{"type":"line","color":"#1a1a70","strokeWidth":1},"encoding":{"detail":{"field":"k"},"order":{"value":null}}},
   {"data":{"name":"bl_arr"},"transform":[{"filter":"datum.c==='red'"}],"mark":{"type":"line","color":"#e02020","strokeWidth":1},"encoding":{"detail":{"field":"k"},"order":{"value":null}}},
   {"data":{"name":"bl_txt"},"transform":[{"filter":"datum.g==='glast'"}],"mark":{"type":"text","font":"Liberation Serif","fontSize":24,"color":"#1a1a70","align":"center","baseline":"middle"},"encoding":{"text":{"field":"t"}}},
   {"data":{"name":"bl_txt"},"transform":[{"filter":"datum.g==='wm'"}],"mark":{"type":"text","font":"Liberation Serif","fontSize":18.5,"color":"#e81010","align":"left","baseline":"middle"},"encoding":{"text":{"field":"t"}}},
   {"data":{"name":"bl_txt"},"transform":[{"filter":"datum.g==='ew'"}],"mark":{"type":"text","font":"Liberation Serif","fontSize":15,"color":"#111","align":"left","baseline":"middle"},"encoding":{"text":{"field":"t"}}},
   {"data":{"name":"bl_txt"},"transform":[{"filter":"datum.g==='tg'"}],"mark":{"type":"text","font":"Liberation Serif","fontSize":11,"color":"#111","align":"center","baseline":"middle"},"encoding":{"text":{"field":"t"}}}
  ]
 },
 {"data":{"values":[{"x":800,"y":500}]},"mark":{"type":"point","opacity":0},"encoding":{
   "x":{"field":"x","type":"quantitative","scale":{"domain":[500,1100],"nice":false,"zero":false},"axis":{"orient":"top","values":[500,600,700,800,900,1000,1100],"tickSize":-8,"labels":false,"title":null}},
   "y":{"field":"y","type":"quantitative","scale":{"domain":[300,700],"nice":false,"zero":false},"axis":{"orient":"right","values":[300,350,400,450,500,550,600,650,700],"tickSize":-8,"labels":false,"title":null}}}},
 {"data":{"values":[{"x":800,"y":500}]},"mark":{"type":"point","opacity":0},"encoding":{
   "x":{"field":"x","type":"quantitative","scale":{"domain":[500,1100],"nice":false,"zero":false},"axis":{"orient":"bottom","values":[520,540,560,580,620,640,660,680,720,740,760,780,820,840,860,880,920,940,960,980,1020,1040,1060,1080],"tickSize":-4,"labels":false,"title":null}},
   "y":{"field":"y","type":"quantitative","scale":{"domain":[300,700],"nice":false,"zero":false},"axis":{"orient":"left","values":[310,320,330,340,360,370,380,390,410,420,430,440,460,470,480,490,510,520,530,540,560,570,580,590,610,620,630,640,660,670,680,690],"tickSize":-4,"labels":false,"title":null}}}},
 {"data":{"values":[{"x":800,"y":500}]},"mark":{"type":"point","opacity":0},"encoding":{
   "x":{"field":"x","type":"quantitative","scale":{"domain":[500,1100],"nice":false,"zero":false},"axis":{"orient":"top","values":[520,540,560,580,620,640,660,680,720,740,760,780,820,840,860,880,920,940,960,980,1020,1040,1060,1080],"tickSize":-4,"labels":false,"title":null}},
   "y":{"field":"y","type":"quantitative","scale":{"domain":[300,700],"nice":false,"zero":false},"axis":{"orient":"right","values":[310,320,330,340,360,370,380,390,410,420,430,440,460,470,480,490,510,520,530,540,560,570,580,590,610,620,630,640,660,670,680,690],"tickSize":-4,"labels":false,"title":null}}}}
],
"resolve":{"axis":{"x":"independent","y":"independent"}}
},
{
"width":471,"height":341,
"layer":[
 {"encoding":{
   "x":{"field":"x","type":"quantitative","scale":{"domain":[500,3500],"nice":false,"zero":false},"axis":{"orient":"bottom","values":[500,1000,1500,2000,2500,3000,3500],"format":"d","tickSize":-8,"labelPadding":17,"title":"M₀ (GeV)","titleX":457,"titleY":33,"titleAlign":"right","titleBaseline":"middle"}},
   "y":{"field":"y","type":"quantitative","scale":{"domain":[300,1000],"nice":false,"zero":false},"axis":{"orient":"left","values":[300,400,500,600,700,800,900,1000],"format":"d","tickSize":-8,"labelPadding":21,"title":["M₁/₂","(GeV)"],"titleAngle":0,"titleAlign":"center","titleBaseline":"top","titleX":-54,"titleY":12,"titleLineHeight":20}}
  },
  "layer":[
   {"data":{"name":"br"},"transform":[{"filter":"datum.s==='hatch'"}],"mark":{"type":"line","filled":true,"interpolate":"linear-closed","color":"#d6e9e9","clip":true},"encoding":{"order":{"value":null}}},
   {"data":{"name":"br"},"transform":[{"filter":"datum.s==='lc500'"}],"mark":{"type":"line","interpolate":"cardinal","color":"#e0a020","strokeWidth":5,"strokeDash":[1.5,1.5],"yOffset":4,"clip":true},"encoding":{"order":{"value":null}}},
   {"data":{"name":"br"},"transform":[{"filter":"datum.s==='lc500'"}],"mark":{"type":"line","interpolate":"cardinal","color":"#f2c318","strokeWidth":4,"clip":true},"encoding":{"order":{"value":null}}},
   {"data":{"name":"br"},"transform":[{"filter":"datum.s==='lg'"}],"mark":{"type":"line","filled":true,"interpolate":"linear-closed","color":"#a8eca8","clip":true},"encoding":{"order":{"value":null}}},
   {"data":{"name":"br"},"transform":[{"filter":"datum.s==='olive'"}],"mark":{"type":"line","interpolate":"cardinal","color":"#d4d48a","strokeWidth":6,"strokeDash":[1.5,1.5],"xOffset":5,"yOffset":-5,"clip":true},"encoding":{"order":{"value":null}}},
   {"data":{"name":"br"},"transform":[{"filter":"datum.s==='olive'"}],"mark":{"type":"line","interpolate":"cardinal","color":"#a9c72a","strokeWidth":6,"clip":true},"encoding":{"order":{"value":null}}},
   {"data":{"name":"br"},"transform":[{"filter":"datum.s==='wmap'"}],"mark":{"type":"line","filled":true,"interpolate":"cardinal-closed","color":"#f01010","clip":true},"encoding":{"order":{"value":null}}},
   {"data":{"name":"br"},"transform":[{"filter":"datum.s==='bg'"}],"mark":{"type":"line","interpolate":"cardinal","color":"#30b030","strokeWidth":8,"strokeDash":[1.5,1.5],"xOffset":-6,"yOffset":5,"clip":true},"encoding":{"order":{"value":null}}},
   {"data":{"name":"br"},"transform":[{"filter":"datum.s==='bg'"}],"mark":{"type":"line","interpolate":"cardinal","color":"#33e033","strokeWidth":5,"clip":true},"encoding":{"order":{"value":null}}},
   {"data":{"name":"br"},"transform":[{"filter":"datum.s==='glast'"}],"mark":{"type":"line","interpolate":"cardinal","color":"#2040ff","strokeWidth":3,"clip":true},"encoding":{"order":{"value":null}}},
   {"data":{"name":"br"},"transform":[{"filter":"datum.s==='dg1'"}],"mark":{"type":"line","color":"#1d6b1d","strokeWidth":9,"strokeDash":[1.5,1.5],"xOffset":-7,"clip":true},"encoding":{"order":{"value":null}}},
   {"data":{"name":"br"},"transform":[{"filter":"datum.s==='dg1'"}],"mark":{"type":"line","color":"#1d6b1d","strokeWidth":3.5,"clip":true},"encoding":{"order":{"value":null}}},
   {"data":{"name":"br"},"transform":[{"filter":"datum.s==='dg2'"}],"mark":{"type":"line","interpolate":"cardinal","color":"#1d6b1d","strokeWidth":6,"strokeDash":[1.5,1.5],"yOffset":5,"clip":true},"encoding":{"order":{"value":null}}},
   {"data":{"name":"br"},"transform":[{"filter":"datum.s==='dg2'"}],"mark":{"type":"line","interpolate":"cardinal","color":"#1d6b1d","strokeWidth":3,"clip":true},"encoding":{"order":{"value":null}}},
   {"data":{"name":"br"},"transform":[{"filter":"datum.s==='lhc'"}],"mark":{"type":"line","interpolate":"cardinal","color":"#111","strokeWidth":11,"strokeDash":[1.5,1.5],"yOffset":7,"clip":true},"encoding":{"order":{"value":null}}},
   {"data":{"name":"br"},"transform":[{"filter":"datum.s==='lhc'"}],"mark":{"type":"line","interpolate":"cardinal","color":"#111","strokeWidth":4,"clip":true},"encoding":{"order":{"value":null}}},
   {"data":{"name":"br"},"transform":[{"filter":"datum.s==='m400'"}],"mark":{"type":"line","interpolate":"cardinal","color":"#f07818","strokeWidth":2,"clip":true},"encoding":{"order":{"value":null}}},
   {"data":{"name":"br"},"transform":[{"filter":"datum.s==='m300'"}],"mark":{"type":"line","interpolate":"cardinal","color":"#f07818","strokeWidth":2,"clip":true},"encoding":{"order":{"value":null}}},
   {"data":{"name":"br"},"transform":[{"filter":"datum.s==='m200'"}],"mark":{"type":"line","interpolate":"cardinal","color":"#f07818","strokeWidth":2,"clip":true},"encoding":{"order":{"value":null}}},
   {"data":{"name":"br_box"},"transform":[{"filter":"datum.g==='green'"}],"mark":{"type":"rect","fill":"#ffffff","stroke":"#7ee07e","strokeWidth":1},"encoding":{"x2":{"field":"x2"},"y2":{"field":"y2"}}},
   {"data":{"name":"br_box"},"transform":[{"filter":"datum.g==='red'"}],"mark":{"type":"rect","fill":"#ffffff","stroke":"#e03030","strokeWidth":1},"encoding":{"x2":{"field":"x2"},"y2":{"field":"y2"}}},
   {"data":{"name":"br_box"},"transform":[{"filter":"datum.g==='black'"}],"mark":{"type":"rect","fill":"#ffffff","stroke":"#333","strokeWidth":1},"encoding":{"x2":{"field":"x2"},"y2":{"field":"y2"}}},
   {"data":{"name":"br_arr"},"transform":[{"filter":"datum.c==='green'"}],"mark":{"type":"line","color":"#33d633","strokeWidth":1.5},"encoding":{"detail":{"field":"k"},"order":{"value":null}}},
   {"data":{"name":"br_arr"},"transform":[{"filter":"datum.c==='black'"}],"mark":{"type":"line","color":"#111","strokeWidth":1},"encoding":{"detail":{"field":"k"},"order":{"value":null}}},
   {"data":{"name":"br_arr"},"transform":[{"filter":"datum.c==='navy'"}],"mark":{"type":"line","color":"#1a1a70","strokeWidth":1},"encoding":{"detail":{"field":"k"},"order":{"value":null}}},
   {"data":{"name":"br_arr"},"transform":[{"filter":"datum.c==='lgreen'"}],"mark":{"type":"line","color":"#55dd55","strokeWidth":1},"encoding":{"detail":{"field":"k"},"order":{"value":null}}},
   {"data":{"name":"br_txt"},"transform":[{"filter":"datum.g==='lhc'"}],"mark":{"type":"text","font":"Liberation Serif","fontSize":21,"color":"#111","align":"center","baseline":"middle"},"encoding":{"text":{"field":"t"}}},
   {"data":{"name":"br_txt"},"transform":[{"filter":"datum.g==='fb'"}],"mark":{"type":"text","font":"Liberation Serif","fontSize":15,"color":"#111","align":"left","baseline":"middle"},"encoding":{"text":{"field":"t"}}},
   {"data":{"name":"br_txt"},"transform":[{"filter":"datum.g==='glast'"}],"mark":{"type":"text","font":"Liberation Serif","fontSize":23,"color":"#1a1a70","align":"center","baseline":"middle"},"encoding":{"text":{"field":"t"}}},
   {"data":{"name":"br_txt"},"transform":[{"filter":"datum.g==='lc1000'"}],"mark":{"type":"text","font":"Liberation Serif","fontSize":18.5,"color":"#4e9a30","align":"center","baseline":"middle"},"encoding":{"text":{"field":"t"}}},
   {"data":{"name":"br_txt"},"transform":[{"filter":"datum.g==='lc500'"}],"mark":{"type":"text","font":"Liberation Serif","fontSize":19,"color":"#f0a040","align":"center","baseline":"middle"},"encoding":{"text":{"field":"t"}}},
   {"data":{"name":"br_txt"},"transform":[{"filter":"datum.g==='pam1'"}],"mark":{"type":"text","font":"Liberation Serif","fontSize":13,"color":"#111","align":"left","baseline":"middle"},"encoding":{"text":{"field":"t"}}},
   {"data":{"name":"br_txt"},"transform":[{"filter":"datum.g==='pam2'"}],"mark":{"type":"text","font":"Liberation Serif","fontSize":11,"color":"#111","align":"left","baseline":"middle"},"encoding":{"text":{"field":"t"}}},
   {"data":{"name":"br_txt"},"transform":[{"filter":"datum.g==='wm1'"}],"mark":{"type":"text","font":"Liberation Serif","fontSize":15,"fontWeight":"bold","color":"#e81010","align":"left","baseline":"middle"},"encoding":{"text":{"field":"t"}}},
   {"data":{"name":"br_txt"},"transform":[{"filter":"datum.g==='wm2'"}],"mark":{"type":"text","font":"Liberation Serif","fontSize":14.5,"fontWeight":"bold","color":"#e81010","align":"left","baseline":"middle"},"encoding":{"text":{"field":"t"}}},
   {"data":{"name":"br_txt"},"transform":[{"filter":"datum.g==='reg'"}],"mark":{"type":"text","font":"Liberation Serif","fontSize":14.5,"fontWeight":"bold","color":"#a6c23a","align":"left","baseline":"middle"},"encoding":{"text":{"field":"t"}}},
   {"data":{"name":"br_txt"},"transform":[{"filter":"datum.g==='ew'"}],"mark":{"type":"text","font":"Liberation Serif","fontSize":12.5,"color":"#111","align":"left","baseline":"middle"},"encoding":{"text":{"field":"t"}}},
   {"data":{"name":"br_txt"},"transform":[{"filter":"datum.g==='mchi'"}],"mark":{"type":"text","font":"Liberation Serif","fontSize":11,"color":"#3a2a80","align":"left","baseline":"middle"},"encoding":{"text":{"field":"t"}}},
   {"data":{"name":"br_txt"},"transform":[{"filter":"datum.g==='tg'"}],"mark":{"type":"text","font":"Liberation Serif","fontSize":11,"color":"#111","align":"center","baseline":"middle"},"encoding":{"text":{"field":"t"}}}
  ]
 },
 {"data":{"values":[{"x":1000,"y":500}]},"mark":{"type":"point","opacity":0},"encoding":{
   "x":{"field":"x","type":"quantitative","scale":{"domain":[500,3500],"nice":false,"zero":false},"axis":{"orient":"top","values":[500,1000,1500,2000,2500,3000,3500],"tickSize":-8,"labels":false,"title":null}},
   "y":{"field":"y","type":"quantitative","scale":{"domain":[300,1000],"nice":false,"zero":false},"axis":{"orient":"right","values":[300,400,500,600,700,800,900,1000],"tickSize":-8,"labels":false,"title":null}}}},
 {"data":{"values":[{"x":1000,"y":500}]},"mark":{"type":"point","opacity":0},"encoding":{
   "x":{"field":"x","type":"quantitative","scale":{"domain":[500,3500],"nice":false,"zero":false},"axis":{"orient":"bottom","values":[600,700,800,900,1100,1200,1300,1400,1600,1700,1800,1900,2100,2200,2300,2400,2600,2700,2800,2900,3100,3200,3300,3400],"tickSize":-4,"labels":false,"title":null}},
   "y":{"field":"y","type":"quantitative","scale":{"domain":[300,1000],"nice":false,"zero":false},"axis":{"orient":"left","values":[320,340,360,380,420,440,460,480,520,540,560,580,620,640,660,680,720,740,760,780,820,840,860,880,920,940,960,980],"tickSize":-4,"labels":false,"title":null}}}},
 {"data":{"values":[{"x":1000,"y":500}]},"mark":{"type":"point","opacity":0},"encoding":{
   "x":{"field":"x","type":"quantitative","scale":{"domain":[500,3500],"nice":false,"zero":false},"axis":{"orient":"top","values":[600,700,800,900,1100,1200,1300,1400,1600,1700,1800,1900,2100,2200,2300,2400,2600,2700,2800,2900,3100,3200,3300,3400],"tickSize":-4,"labels":false,"title":null}},
   "y":{"field":"y","type":"quantitative","scale":{"domain":[300,1000],"nice":false,"zero":false},"axis":{"orient":"right","values":[320,340,360,380,420,440,460,480,520,540,560,580,620,640,660,680,720,740,760,780,820,840,860,880,920,940,960,980],"tickSize":-4,"labels":false,"title":null}}}}
],
"resolve":{"axis":{"x":"independent","y":"independent"}}
}
],
"columns":2,
"spacing":{"row":57,"column":103},
"bounds":"flush"
}
